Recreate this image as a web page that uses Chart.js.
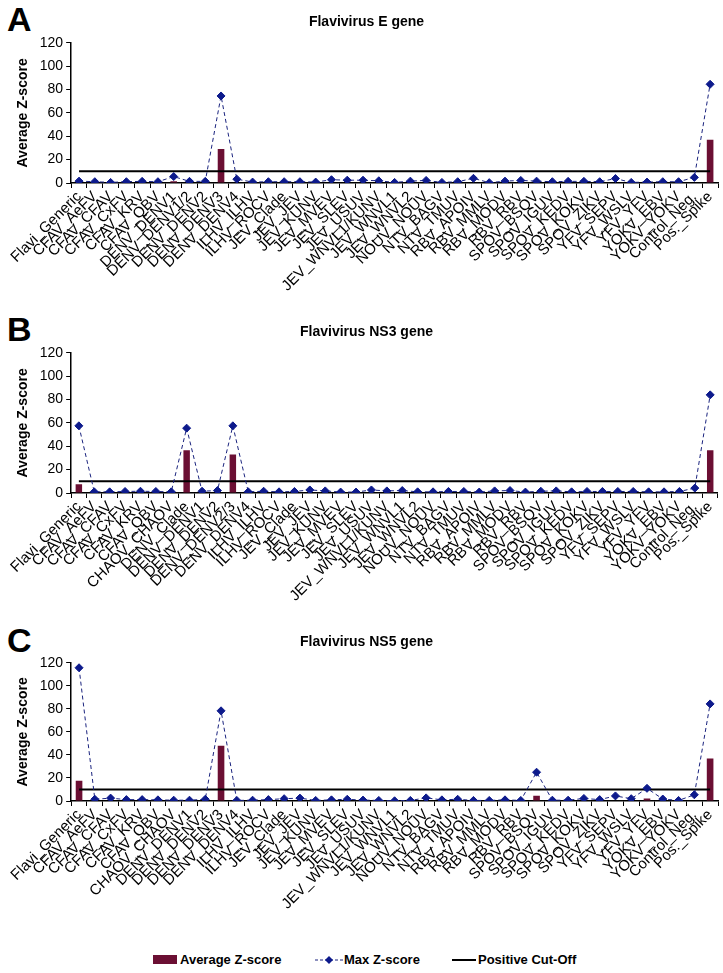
<!DOCTYPE html>
<html><head><meta charset="utf-8">
<script src="https://cdn.jsdelivr.net/npm/chart.js@4.4.0/dist/chart.umd.min.js"></script>
<style>
body{margin:0;background:#fff;width:723px;height:973px;position:relative;overflow:hidden;font-family:"Liberation Sans",Arial,sans-serif;}
canvas{position:absolute;left:0;}
.letter{position:absolute;left:7px;font-weight:bold;font-size:34px;line-height:34px;color:#000;}
.lg{position:absolute;top:952px;font-weight:bold;font-size:13px;line-height:16px;color:#000;}
</style>
</head><body>
<div class="letter" style="top:2px">A</div>
<div class="letter" style="top:312px">B</div>
<div class="letter" style="top:623px">C</div>
<canvas id="cA" width="723" height="302" style="top:0px"></canvas>
<canvas id="cB" width="723" height="302" style="top:310px"></canvas>
<canvas id="cC" width="723" height="300" style="top:620px"></canvas>

<div style="position:absolute;left:153px;top:955px;width:24px;height:9px;background:#6b0f33"></div>
<div class="lg" style="left:180px">Average Z-score</div>
<svg style="position:absolute;left:315px;top:952px" width="28" height="16"><line x1="0" y1="8" x2="28" y2="8" stroke="#1a237e" stroke-width="1" stroke-dasharray="3,2"/><polygon points="14,4 18,8 14,12 10,8" fill="#0d1a8c"/></svg>
<div class="lg" style="left:344px">Max Z-score</div>
<svg style="position:absolute;left:452px;top:952px" width="24" height="16"><line x1="0" y1="8" x2="24" y2="8" stroke="#000" stroke-width="2"/></svg>
<div class="lg" style="left:478px">Positive Cut-Off</div>

<script>
const CUTOFF = 10;

const catsE = ["Flavi_Generic","CFAV_AeFV","CFAV_CFAV","CFAV_CxFV","CFAV_KRV","CFAV_QBV","DENV_DENV1","DENV_DENV1/2","DENV_DENV2","DENV_DENV3","DENV_DENV4","ILHV_ILHV","ILHV_ROCV","JEV_Clade","JEV_JEV","JEV_KUNV","JEV_MVEV","JEV_SLEV","JEV_USUV","JEV_WNVL1/KUNV","JEV_WNVL1","JEV_WNVL2","NOUV_NOUV","NTV_BAGV","NTV_TMUV","RBV_APOIV","RBV_MMLV","RBV_MODV","RBV_RBV","SPOV_BSQV","SPOV_IGUV","SPOV_KEDV","SPOV_KOKV","SPOV_ZIKV","YFV_SEPV","YFV_WSLV","YFV_YFV","YOKV_EBV","YOKV_YOKV","Control_Neg.","Pos._Spike"];
const avgE = [0,0,0,0,0,0,1.6,0,0,29,0,0,0,0,0,0,0,0,0,0,0,0,0,0,0,0,0,0,0,0,0,0,0,0,0,0,0,0,0,0,37];
const maxE = [1.6,1.1,0.5,1.1,1.4,1.1,5.5,1.4,1.4,74.5,3.3,0.8,1.1,1.1,1.1,0.8,2.8,2.4,2.4,1.9,0.5,1.6,2.2,0.5,1.1,4.0,0.3,1.6,2.2,1.6,1.1,1.4,1.4,1.1,3.8,0.5,0.8,1.1,1.1,4.8,84.5];

const catsNS3 = ["Flavi_Generic","CFAV_AeFV","CFAV_CFAV","CFAV_CxFV","CFAV_KRV","CFAV_QBV","CHAOV_CHAOV","DENV_Clade","DENV_DENV1","DENV_DENV2","DENV_DENV2/3","DENV_DENV4","ILHV_ILHV","ILHV_ROCV","JEV_Clade","JEV_JEV","JEV_KUNV","JEV_MVEV","JEV_SLEV","JEV_USUV","JEV_WNVL1/KUNV","JEV_WNVL1","JEV_WNVL2","NOUV_NOUV","NTV_BAGV","NTV_TMUV","RBV_APOIV","RBV_MMLV","RBV_MODV","RBV_RBV","SPOV_BSQV","SPOV_IGUV","SPOV_KEDV","SPOV_KOKV","SPOV_ZIKV","YFV_SEPV","YFV_WSLV","YFV_YFV","YOKV_EBV","YOKV_YOKV","Control_Neg.","Pos._Spike"];
const avgNS3 = [7.5,0,0,0,0,0,0,36.5,0,0,33,0,0,0,0,0,0,0,0,0,0,0,0,0,0,0,0,0,0,0,0,0,0,0,0,0,0,0,0,0,0,36.5];
const maxNS3 = [57.5,1.0,1.0,1.3,1.5,1.3,1.0,55.5,1.5,2.1,57.5,1.0,1.5,1.0,1.3,2.6,1.8,0.8,0.8,2.6,1.8,2.1,1.0,1.0,1.3,1.3,0.8,1.8,2.1,0.8,1.5,1.8,1.0,1.3,1.3,1.3,1.3,1.0,1.0,1.3,4.2,84];

const catsNS5 = ["Flavi_Generic","CFAV_AeFV","CFAV_CFAV","CFAV_CxFV","CFAV_KRV","CFAV_QBV","CHAOV_CHAOV","DENV_DENV1","DENV_DENV2","DENV_DENV3","DENV_DENV4","ILHV_ILHV","ILHV_ROCV","JEV_Clade","JEV_JEV","JEV_KUNV","JEV_MVEV","JEV_SLEV","JEV_USUV","JEV_WNVL1/KUNV","JEV_WNVL1","JEV_WNVL2","NOUV_NOUV","NTV_BAGV","NTV_TMUV","RBV_APOIV","RBV_MMLV","RBV_MODV","RBV_RBV","SPOV_BSQV","SPOV_IGUV","SPOV_KEDV","SPOV_KOKV","SPOV_ZIKV","YFV_SEPV","YFV_WSLV","YFV_YFV","YOKV_EBV","YOKV_YOKV","Control_Neg.","Pos._Spike"];
const avgNS5 = [17.5,0,0,0,0,0,0,0,0,48,0,0,0,0,0,0,0,0,0,0,0,0,0,0,0,0,0,0,0,4.5,0,0,0,0,0,0,2.2,0,0,0,37];
const maxNS5 = [115.7,1.5,2.5,1.2,1.2,1.0,0.7,0.7,1.5,78.3,0.5,0.7,1.2,2.0,2.5,0.5,1.0,1.5,0.8,0.5,0.2,0.5,2.7,1.0,1.5,0.5,0.5,1.0,0.5,25,0.7,0.7,2.2,1.2,4.4,2.0,11,1.7,0.5,5.4,84.3];

const yMin = 0, yMax = 120, yStep = 20;
const FONT = "'Liberation Sans', Arial, sans-serif";
const X_AXIS_H = 119;

function makeChart(id, title, cats, avg, mx) {
  const cut = cats.map(() => CUTOFF);
  new Chart(document.getElementById(id), {
    data: {
      labels: cats,
      datasets: [
        {type:'line', label:'Max Z-score', data: mx, borderColor:'#1a237e', borderWidth:1, borderDash:[4,3],
         pointStyle:'rectRot', pointRadius:4, pointBackgroundColor:'#0d1a8c', pointBorderColor:'#0d1a8c', tension:0, order:0},
        {type:'line', label:'Positive Cut-Off', data: cut, borderColor:'#000', borderWidth:2, pointRadius:0, order:1},
        {type:'bar', label:'Average Z-score', data: avg, backgroundColor:'#6b0f33', barPercentage:0.42, categoryPercentage:1, order:2}
      ]
    },
    options: {
      responsive:false, animation:false,
      plugins:{
        legend:{display:false}, tooltip:{enabled:false},
        title:{display:true, text:title, color:'#000', font:{family:FONT, size:14, weight:'bold'}, padding:{top:14, bottom:12}}
      },
      scales:{
        x:{offset:true,
           afterFit(scale){ scale.height = X_AXIS_H; },
           grid:{display:true, drawOnChartArea:false, offset:true, color:'#000', tickLength:5},
           border:{color:'#000', width:1.5},
           ticks:{minRotation:45, maxRotation:45, autoSkip:false, color:'#000', font:{family:FONT, size:15}, padding:0}},
        y:{min:yMin, max:yMax,
           ticks:{stepSize:yStep, color:'#000', font:{family:FONT, size:14}, padding:3},
           grid:{drawOnChartArea:false, color:'#000', tickLength:5},
           border:{color:'#000', width:1.5},
           title:{display:true, text:'Average Z-score', color:'#000', font:{family:FONT, size:14, weight:'bold'}, padding:{top:0, bottom:5}}}
      },
      layout:{padding:{left:15, right:5, top:0, bottom:0}}
    }
  });
}

makeChart('cA', 'Flavivirus E gene', catsE, avgE, maxE);
makeChart('cB', 'Flavivirus NS3 gene', catsNS3, avgNS3, maxNS3);
makeChart('cC', 'Flavivirus NS5 gene', catsNS5, avgNS5, maxNS5);
</script>
</body></html>
